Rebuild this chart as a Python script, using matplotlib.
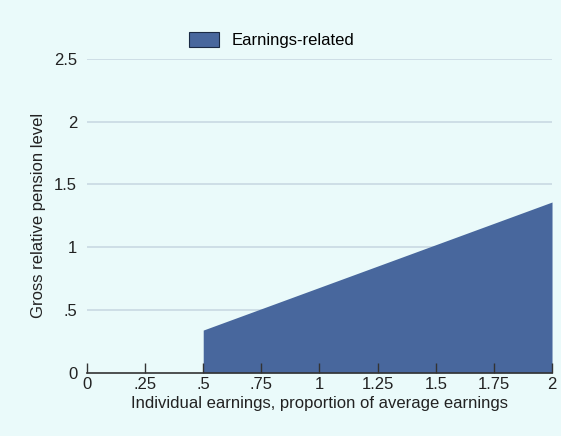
import numpy as np
import matplotlib.pyplot as plt

plt.rcParams['font.family'] = ['Liberation Sans', 'DejaVu Sans']

# individual earnings (multiple of average) and gross relative pension level
earnings = [0.5, 0.75, 1.0, 1.25, 1.5, 1.75, 2.0]
earnings_related = [0.34, 0.51, 0.68, 0.85, 1.02, 1.19, 1.36]
series_name = 'Earnings-related'

x_ticks = [0, 0.25, 0.5, 0.75, 1, 1.25, 1.5, 1.75, 2]
x_labels = ['0', '.25', '.5', '.75', '1', '1.25', '1.5', '1.75', '2']
y_ticks = [0, 0.5, 1, 1.5, 2, 2.5]
y_labels = ['0', '.5', '1', '1.5', '2', '2.5']

bg = '#eafafa'
fill_col = '#48679d'

fig = plt.figure(figsize=(5.61, 4.36), dpi=100)
fig.patch.set_facecolor(bg)
ax = fig.add_axes([0.155, 0.145, 0.829, 0.72])
ax.set_facecolor(bg)

ax.fill_between(earnings, earnings_related, 0, color=fill_col, linewidth=0,
                label=series_name)

ax.set_xlim(0, 2)
ax.set_ylim(0, 2.5)
ax.set_xticks(x_ticks)
ax.set_xticklabels(x_labels)
ax.set_yticks(y_ticks)
ax.set_yticklabels(y_labels)

for y in y_ticks[1:]:
    ax.axhline(y, color='#c9d9e3', linewidth=1.2, zorder=0)

for s in ['top', 'right', 'left']:
    ax.spines[s].set_visible(False)
ax.spines['bottom'].set_color('#333333')
ax.spines['bottom'].set_linewidth(1.2)

ax.tick_params(axis='x', direction='in', length=7, width=1, color='#333333',
               labelsize=12, pad=3, labelcolor='#222222')
ax.tick_params(axis='y', length=0, labelsize=12, pad=7, labelcolor='#222222')

ax.set_xlabel('Individual earnings, proportion of average earnings',
              fontsize=12, color='#222222', labelpad=3)
ax.set_ylabel('Gross relative pension level', fontsize=12, color='#222222',
              labelpad=6)

leg = ax.legend(loc='center', bbox_to_anchor=(0.397, 1.06), frameon=False,
                fontsize=12, handlelength=1.8, handleheight=1.0)
leg.get_patches()[0].set_edgecolor('#1a2a44')
leg.get_patches()[0].set_linewidth(0.8)

fig.savefig('out.png', dpi=100, facecolor=bg)
